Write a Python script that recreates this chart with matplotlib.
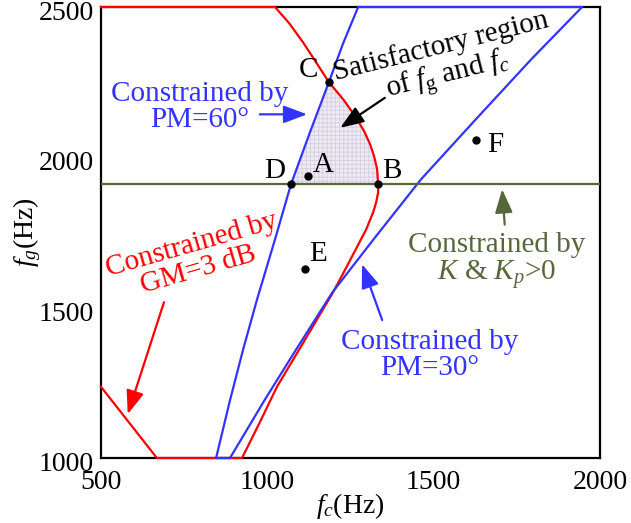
import numpy as np
import matplotlib
matplotlib.use("Agg")
import matplotlib.pyplot as plt
import matplotlib.transforms as mtransforms

plt.rcParams["font.family"] = ["Liberation Serif", "DejaVu Serif"]
plt.rcParams["mathtext.fontset"] = "custom"
plt.rcParams["mathtext.rm"] = "Liberation Serif"
plt.rcParams["mathtext.it"] = "Liberation Serif:italic"
plt.rcParams["hatch.linewidth"] = 0.6

# GM = 3 dB boundary (fc, fg), clamped to the axes range
gm_fc = [500, 668, 924, 978, 1029, 1113, 1197, 1237, 1270, 1297, 1318, 1327, 1333,
         1333, 1330, 1321, 1309, 1291, 1264, 1228, 1185, 1146, 1107, 1065, 1023, 500]
gm_fg = [1237, 1000, 1000, 1120, 1237, 1393, 1550, 1633, 1703, 1760, 1817, 1850, 1883,
         1910, 1960, 2003, 2043, 2087, 2137, 2193, 2250, 2317, 2383, 2447, 2500, 2500]

# PM = 60 deg boundary (left branch)
pm60_fc = [846, 888, 927, 969, 1023, 1071, 1128, 1185, 1227, 1273]
pm60_fg = [1000, 1193, 1360, 1527, 1727, 1910, 2083, 2250, 2377, 2500]

# PM = 30 deg boundary (right branch), joined to PM=60 along the clamped edges
pm30_fc = [846, 888, 992, 1086, 1195, 1319, 1462, 1627, 1794, 1946, 1273]
pm30_fg = [1000, 1000, 1193, 1360, 1550, 1727, 1927, 2127, 2327, 2500, 2500]

# K & Kp > 0 boundary
k_fg = 1910

# operating points
pt_names = ["A", "B", "C", "D", "E", "F"]
pt_fc = [1122, 1333, 1185, 1071, 1113, 1627]
pt_fg = [1937, 1910, 2250, 1910, 1627, 2057]
pt_label_pos = {"A": (1167, 1975), "B": (1374, 1955), "C": (1123, 2292),
                "D": (1023, 1955), "E": (1152, 1680), "F": (1686, 2040)}

RED = "#ff0000"
BLUE = "#3333ff"
GREEN = "#56683a"

fig = plt.figure(figsize=(6.31, 5.23), dpi=100)
ax = fig.add_axes([0.160, 0.1243, 0.791, 0.8623])

# satisfactory region D-C-B
i_b = gm_fg.index(k_fg)
i_c = gm_fg.index(2250)
yy = np.linspace(k_fg, 2250, 80)
x_left = np.interp(yy, pm60_fg, pm60_fc)
x_right = np.interp(yy, gm_fg[i_b:i_c + 1], gm_fc[i_b:i_c + 1])
ax.fill_betweenx(yy, x_left, x_right, facecolor="#eeebf3", edgecolor="#d6cfe2",
                 hatch="++++", lw=0, zorder=1)

ax.plot(gm_fc, gm_fg, color=RED, lw=1.6, zorder=3, clip_on=False)
ax.plot(pm60_fc, pm60_fg, color=BLUE, lw=1.6, zorder=3, clip_on=False)
ax.plot(pm30_fc, pm30_fg, color=BLUE, lw=1.6, zorder=3, clip_on=False)
ax.axhline(k_fg, color=GREEN, lw=1.6, zorder=3)

ax.plot(pt_fc, pt_fg, "o", color="black", ms=5, zorder=5)
for name in pt_names:
    ax.text(*pt_label_pos[name], name, fontsize=21, ha="center", va="center")

ax.set_xlim(500, 2000)
ax.set_ylim(1000, 2500)
ax.set_xticks([500, 1000, 1500, 2000])
ax.set_yticks([1000, 1500, 2000, 2500])
ax.tick_params(length=0, labelsize=20)
ax.tick_params(axis="x", pad=9)
ax.tick_params(axis="y", pad=5)
shift = mtransforms.ScaledTranslation(0, -2.5 / 72, fig.dpi_scale_trans)
for lab in ax.get_yticklabels():
    lab.set_transform(lab.get_transform() + shift)
for s in ax.spines.values():
    s.set_linewidth(1.6)
ax.set_xlabel("$f_c$(Hz)", fontsize=20, labelpad=-3)
ax.set_ylabel("$f_g$(Hz)", fontsize=20, labelpad=-3)


def note(xy, xytext, color):
    ax.annotate("", xy=xy, xytext=xytext,
                arrowprops=dict(arrowstyle="-|>,head_length=0.8,head_width=0.3",
                                color=color, lw=1.6, mutation_scale=18))


# annotations
ax.text(798, 2167, "Constrained by\nPM=60°", color=BLUE, fontsize=21,
        ha="center", va="center", linespacing=1.0)
note((1128, 2143), (969, 2143), BLUE)

ax.text(1534, 2312, "Satisfactory region\nof $f_\\mathrm{g}$ and $f_c$", color="black",
        fontsize=21, ha="center", va="center", rotation=14, linespacing=1.0)
note((1212, 2093), (1360, 2203), "black")

ax.text(783, 1667, "Constrained by\nGM=3 dB", color=RED, fontsize=21,
        ha="center", va="center", rotation=16, linespacing=1.0)
note((578, 1137), (692, 1527), RED)

ax.text(1690, 1653, "Constrained by\n$K$ & $K_p$>0", color=GREEN, fontsize=21,
        ha="center", va="center", linespacing=1.0)
note((1705, 1903), (1714, 1767), GREEN)

ax.text(1489, 1343, "Constrained by\nPM=30°", color=BLUE, fontsize=21,
        ha="center", va="center", linespacing=1.0)
note((1282, 1653), (1348, 1450), BLUE)

fig.savefig("out.png", dpi=100)
